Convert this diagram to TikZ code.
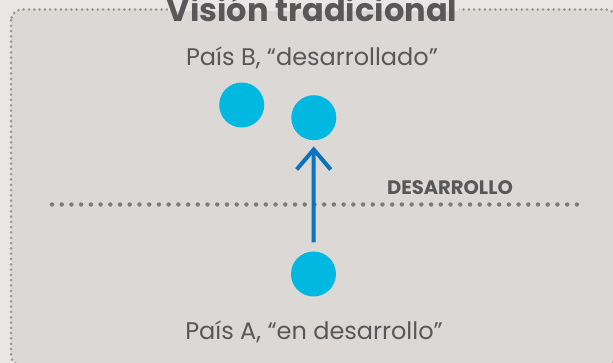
\documentclass[tikz,border=0pt]{standalone}
\usepackage{fontspec}
\setmainfont{Poppins}
\usetikzlibrary{arrows.meta}
\definecolor{outerbg}{HTML}{E8E7E5}
\definecolor{innerbg}{HTML}{DBD8D5}
\definecolor{borderdot}{HTML}{9E9A96}
\definecolor{linedot}{HTML}{7C7B7B}
\definecolor{txt}{HTML}{58585A}
\definecolor{dotcyan}{HTML}{00B8E0}
\definecolor{arrowblue}{HTML}{0B72BD}
\tikzset{
  country/.style={circle, fill=dotcyan, minimum size=45pt, inner sep=0pt},
  label/.style={text=txt, font=\fontsize{24}{28}\selectfont, inner sep=0pt, anchor=base},
  devarrow/.style={draw=arrowblue, line width=4pt, -{Straight Barb[length=20pt,width=34pt]}}
}
\begin{document}
\begin{tikzpicture}[x=1pt,y=-1pt]
\useasboundingbox (0,0) rectangle (613,363);
\fill[outerbg] (0,0) rectangle (613,363);
\draw[fill=innerbg, draw=borderdot, line width=3pt, line cap=round, dash pattern=on 0pt off 5.3pt, rounded corners=11pt] (11,9.5) rectangle (617,366);
\fill[outerbg] (168,0) rectangle (459,11);
\node[label, font=\fontsize{32}{36}\selectfont\bfseries] (title) at (312,21.5) {Visión tradicional};
\node[label] (labB) at (312,65.7) {País B, “desarrollado”};
\node[label] (labA) at (314,339) {País A, “en desarrollo”};
\node[country] (B1) at (241.7,105) {};
\node[country] (B2) at (313.8,117.7) {};
\node[country] (A) at (313.5,274) {};
\coordinate (lineL) at (52,204.5);
\coordinate (lineR) at (577,204.5);
\draw[linedot, line width=4.4pt, line cap=round, dash pattern=on 0pt off 9.72pt] (lineL) -- (lineR);
\node[label, font=\fontsize{19.5}{22}\selectfont\bfseries] (dev) at (450,195) {DESARROLLO};
\draw[devarrow, shorten <=9pt, shorten >=6pt] (A) -- (B2);
\end{tikzpicture}
\end{document}
